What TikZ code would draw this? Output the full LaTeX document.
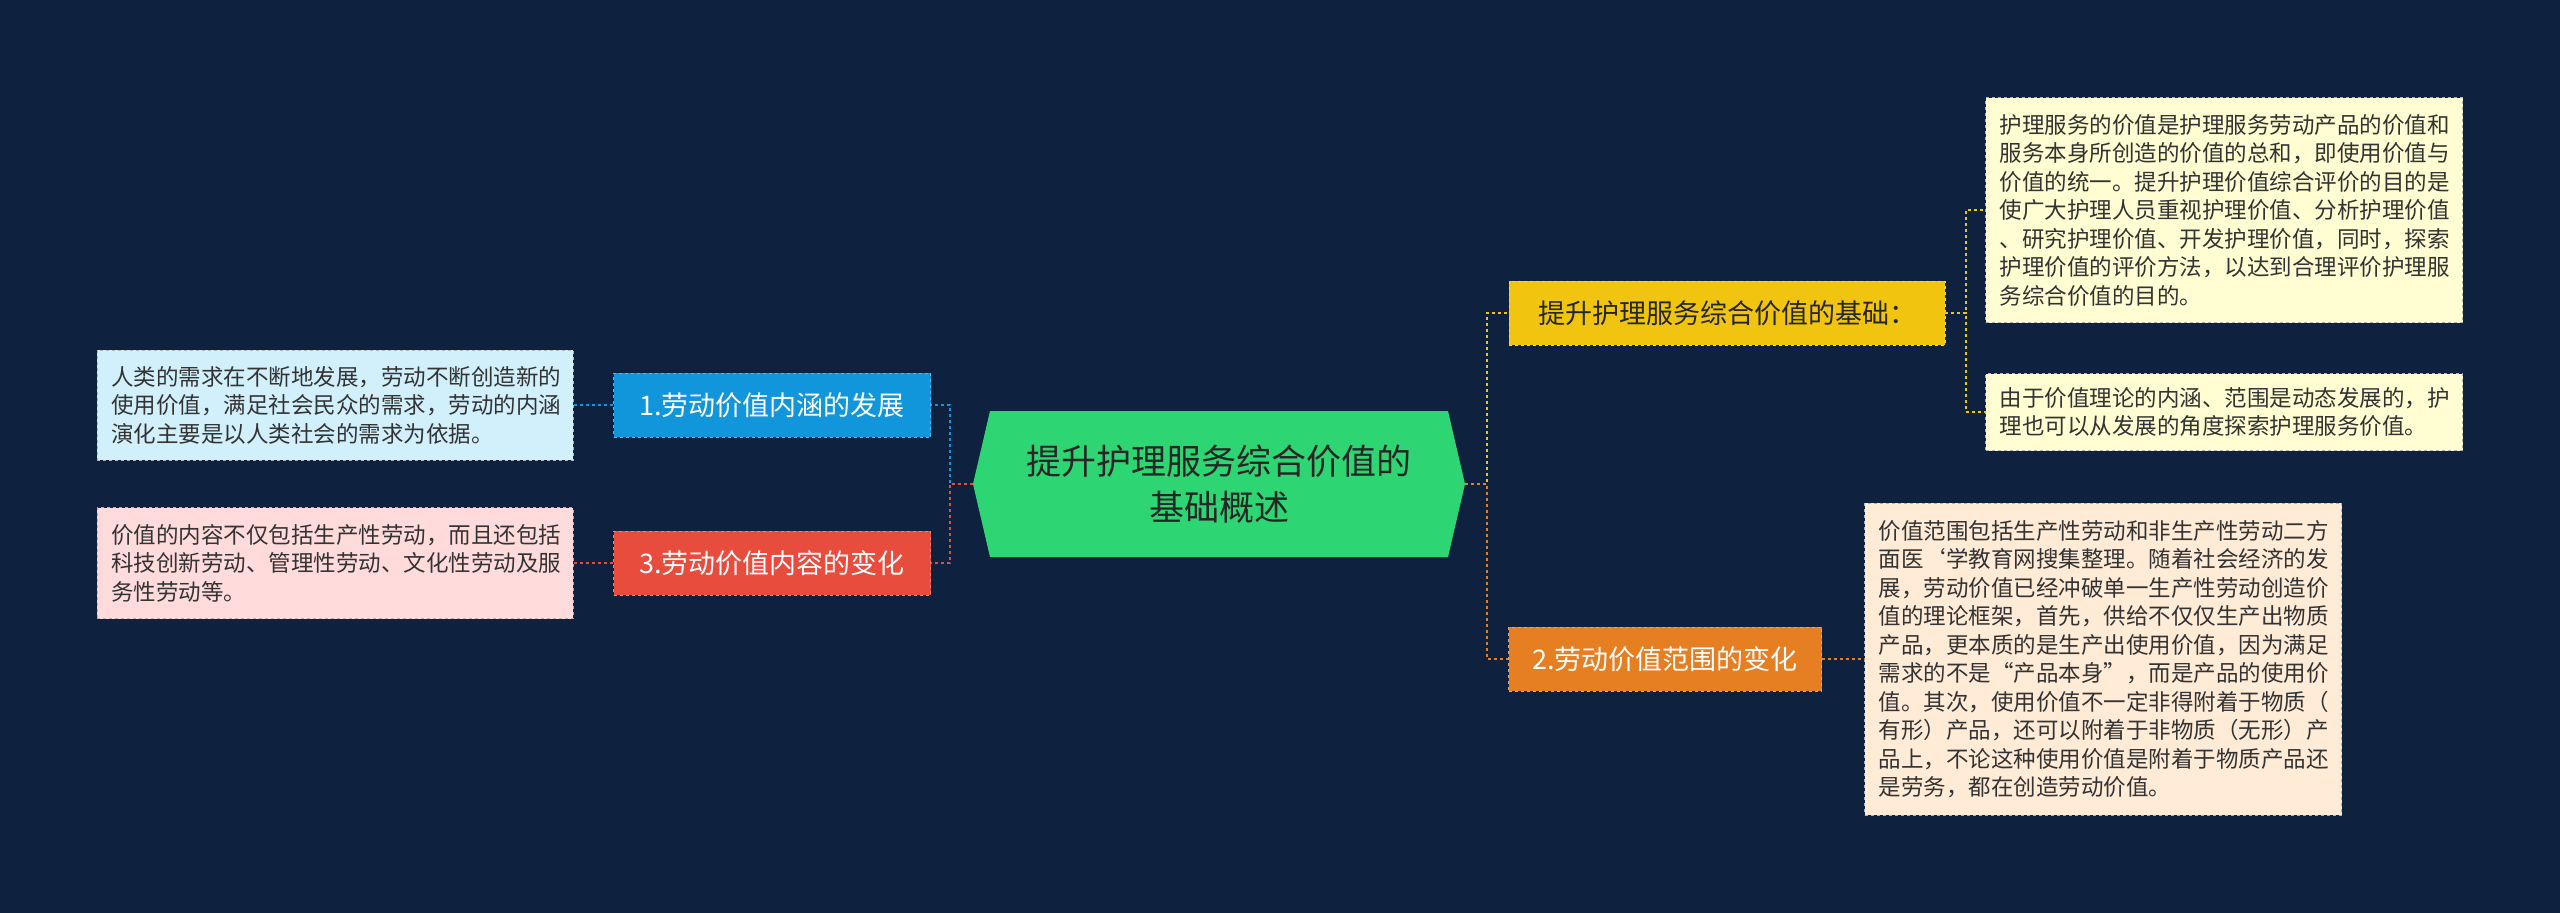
\documentclass[tikz,border=0pt]{standalone}
\usepackage{fontspec}
\setmainfont{Noto Sans CJK SC}
\usetikzlibrary{shapes.geometric}
\definecolor{bg}{HTML}{0E223F}
\definecolor{cgreen}{HTML}{2ED573}
\definecolor{cblue}{HTML}{1296DB}
\definecolor{cred}{HTML}{E74C3C}
\definecolor{cyel}{HTML}{F1C40F}
\definecolor{corg}{HTML}{E67E22}
\tikzset{
 x=1pt,y=-1pt,
 br/.style={draw=#1!70!white,dashed,fill=#1,text=white,font=\fontsize{27}{32}\selectfont,minimum height=64pt,inner xsep=14pt,anchor=center},
 tb/.style={draw=gray!60,dashed,fill=#1,text=black!80,font=\fontsize{22.5}{28.5}\selectfont,align=left,inner xsep=14pt,inner ysep=12pt},
 ln/.style={draw=#1,dashed,line width=1.6pt}
}
\begin{document}
\begin{tikzpicture}
\fill[bg] (0,0) rectangle (2560,913);
\useasboundingbox (0,0) rectangle (2560,913);
\node[regular polygon,regular polygon sides=6,draw=none] at (0,0) {};
\fill[cgreen] (973,484) -- (990,411) -- (1448,411) -- (1465,484) -- (1448,557) -- (990,557) -- cycle;
\node (c) at (1219,484) [font=\fontsize{35}{46}\selectfont,text=black!85,align=center,minimum width=492pt,minimum height=146pt] {提升护理服务综合价值的\\基础概述};
\node[br=cblue,minimum width=317pt] (n1) at (772,405) {1.劳动价值内涵的发展};
\node[br=cred,minimum width=317pt] (n3) at (772,563) {3.劳动价值内容的变化};
\node[br=cyel,minimum width=317pt,text=black!85,minimum width=436pt] (r1) at (1727,313) {提升护理服务综合价值的基础：};
\node[br=corg,minimum width=313pt] (r2) at (1665,659) {2.劳动价值范围的变化};
\node[tb=cyan!18,text width=448pt,minimum height=110pt] (t1) at (335,405) {人类的需求在不断地发展，劳动不断创造新的\\使用价值，满足社会民众的需求，劳动的内涵\\演化主要是以人类社会的需求为依据。};
\node[tb=red!14,text width=448pt,minimum height=111pt] (t3) at (335,563) {价值的内容不仅包括生产性劳动，而且还包括\\科技创新劳动、管理性劳动、文化性劳动及服\\务性劳动等。};
\node[tb=yellow!18,text width=449pt,minimum height=225pt] (a1) at (2224,210) {护理服务的价值是护理服务劳动产品的价值和\\服务本身所创造的价值的总和，即使用价值与\\价值的统一。提升护理价值综合评价的目的是\\使广大护理人员重视护理价值、分析护理价值\\、研究护理价值、开发护理价值，同时，探索\\护理价值的评价方法，以达到合理评价护理服\\务综合价值的目的。};
\node[tb=yellow!18,text width=449pt,minimum height=77pt] (a2) at (2224,412) {由于价值理论的内涵、范围是动态发展的，护\\理也可以从发展的角度探索护理服务价值。};
\node[tb=orange!16,text width=449pt,minimum height=312pt] (b1) at (2103,659) {价值范围包括生产性劳动和非生产性劳动二方\\面医`学教育网搜集整理。随着社会经济的发\\展，劳动价值已经冲破单一生产性劳动创造价\\值的理论框架，首先，供给不仅仅生产出物质\\产品，更本质的是生产出使用价值，因为满足\\需求的不是“产品本身”，而是产品的使用价\\值。其次，使用价值不一定非得附着于物质（\\有形）产品，还可以附着于非物质（无形）产\\品上，不论这种使用价值是附着于物质产品还\\是劳务，都在创造劳动价值。};
% connectors
\draw[ln=cblue] (973,484) -| (950,405) -- (n1.east);
\draw[ln=cred] (973,484) -| (950,563) -- (n3.east);
\draw[ln=cblue] (n1.west) -- (t1.east);
\draw[ln=cred] (n3.west) -- (t3.east);
\draw[ln=cyel] (1465,484) -| (1487,313) -- (r1.west);
\draw[ln=corg] (1465,484) -| (1487,659) -- (r2.west);
\draw[ln=cyel] (r1.east) -| (1966,210) -- (a1.west);
\draw[ln=cyel] (r1.east) -| (1966,412) -- (a2.west);
\draw[ln=corg] (r2.east) -- (b1.west);
\end{tikzpicture}
\end{document}
